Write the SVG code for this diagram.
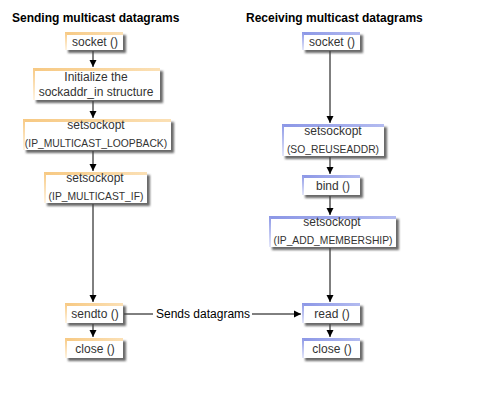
<svg xmlns="http://www.w3.org/2000/svg" width="487" height="406" viewBox="0 0 487 406">
<defs>
<filter id="sh" x="-20%" y="-20%" width="140%" height="160%"><feGaussianBlur stdDeviation="1"/></filter>
<linearGradient id="oL" x1="0" y1="0" x2="0" y2="1"><stop offset="0" stop-color="#f7c983"/><stop offset="1" stop-color="#fff4e2"/></linearGradient>
<linearGradient id="oT" x1="0" y1="0" x2="1" y2="0"><stop offset="0" stop-color="#f7c983"/><stop offset="1" stop-color="#fbe0b5"/></linearGradient>
<linearGradient id="bL" x1="0" y1="0" x2="0" y2="1"><stop offset="0" stop-color="#8c97e6"/><stop offset="1" stop-color="#e4e7fa"/></linearGradient>
<linearGradient id="bT" x1="0" y1="0" x2="1" y2="0"><stop offset="0" stop-color="#8c97e6"/><stop offset="1" stop-color="#b3bbf0"/></linearGradient>
<marker id="ah" markerWidth="8" markerHeight="8" refX="7" refY="4" orient="auto" markerUnits="userSpaceOnUse"><path d="M0,0.5 L7,4 L0,7.5 Z" fill="#000"/></marker>
</defs>
<style>
.t{font-family:"Liberation Sans",Arial,sans-serif;font-size:12px;fill:#333;text-anchor:middle}
.s{font-family:"Liberation Sans",Arial,sans-serif;font-size:10.3px;fill:#333;text-anchor:middle}
.h{font-family:"Liberation Sans",Arial,sans-serif;font-size:12px;font-weight:bold;fill:#000}
.l{font-family:"Liberation Sans",Arial,sans-serif;font-size:12px;fill:#000}
.shd{fill:#444;filter:url(#sh);opacity:0.8}
.bg{fill:#fff}
.c{stroke:#000;stroke-width:1;fill:none}
.ca{stroke:#000;stroke-width:1;fill:none;marker-end:url(#ah)}
</style>
<text class="h" x="12" y="22">Sending multicast datagrams</text>
<text class="h" x="246" y="22">Receiving multicast datagrams</text>

<g id="connectors">
<line class="ca" x1="93" y1="51" x2="93" y2="67"/>
<line class="ca" x1="93" y1="101" x2="93" y2="118"/>
<line class="ca" x1="93" y1="151" x2="93" y2="171"/>
<line class="ca" x1="93" y1="204" x2="93" y2="302"/>
<line class="ca" x1="93" y1="324" x2="93" y2="337"/>
<line class="ca" x1="330" y1="51" x2="330" y2="123"/>
<line class="ca" x1="330" y1="157" x2="330" y2="174"/>
<line class="ca" x1="330" y1="196" x2="330" y2="215"/>
<line class="ca" x1="330" y1="248" x2="330" y2="302"/>
<line class="ca" x1="330" y1="324" x2="330" y2="337"/>
<line class="c" x1="124" y1="314" x2="153" y2="314"/>
<line class="ca" x1="252" y1="314" x2="301" y2="314"/>
<text class="l" x="156" y="318">Sends datagrams</text>
</g>

<g id="s_socket">
<rect class="shd" x="68" y="35" width="58" height="18"/>
<rect class="bg" x="65" y="32" width="58" height="18"/>
<rect x="65" y="32" width="58" height="3" fill="url(#oT)"/>
<rect x="65" y="32" width="2" height="18" fill="url(#oL)"/>
<text class="t" x="95" y="46">socket ()</text>
</g>
<g id="s_init">
<rect class="shd" x="36" y="71" width="127" height="32"/>
<rect class="bg" x="33" y="68" width="127" height="32"/>
<rect x="33" y="68" width="127" height="3" fill="url(#oT)"/>
<rect x="33" y="68" width="2" height="32" fill="url(#oL)"/>
<text class="t" x="96" y="81">Initialize the</text>
<text class="t" x="96" y="96">sockaddr_in structure</text>
</g>
<g id="s_loopback">
<rect class="shd" x="26" y="122" width="148" height="31"/>
<rect class="bg" x="23" y="119" width="148" height="31"/>
<rect x="23" y="119" width="148" height="3" fill="url(#oT)"/>
<rect x="23" y="119" width="2" height="31" fill="url(#oL)"/>
<text class="t" x="96" y="129">setsockopt</text>
<text class="s" x="96" y="147">(IP_MULTICAST_LOOPBACK)</text>
</g>
<g id="s_if">
<rect class="shd" x="47" y="175" width="103" height="31"/>
<rect class="bg" x="44" y="172" width="103" height="31"/>
<rect x="44" y="172" width="103" height="3" fill="url(#oT)"/>
<rect x="44" y="172" width="2" height="31" fill="url(#oL)"/>
<text class="t" x="95" y="182">setsockopt</text>
<text class="s" x="96" y="200">(IP_MULTICAST_IF)</text>
</g>
<g id="s_sendto">
<rect class="shd" x="68" y="306" width="58" height="20"/>
<rect class="bg" x="65" y="303" width="58" height="20"/>
<rect x="65" y="303" width="58" height="3" fill="url(#oT)"/>
<rect x="65" y="303" width="2" height="20" fill="url(#oL)"/>
<text class="t" x="95" y="318">sendto ()</text>
</g>
<g id="s_close">
<rect class="shd" x="68" y="341" width="58" height="20"/>
<rect class="bg" x="65" y="338" width="58" height="20"/>
<rect x="65" y="338" width="58" height="3" fill="url(#oT)"/>
<rect x="65" y="338" width="2" height="20" fill="url(#oL)"/>
<text class="t" x="95" y="353">close ()</text>
</g>

<g id="r_socket">
<rect class="shd" x="305" y="35" width="58" height="18"/>
<rect class="bg" x="302" y="32" width="58" height="18"/>
<rect x="302" y="32" width="58" height="3" fill="url(#bT)"/>
<rect x="302" y="32" width="2" height="18" fill="url(#bL)"/>
<text class="t" x="332" y="46">socket ()</text>
</g>
<g id="r_reuse">
<rect class="shd" x="285" y="127" width="102" height="32"/>
<rect class="bg" x="282" y="124" width="102" height="32"/>
<rect x="282" y="124" width="102" height="3" fill="url(#bT)"/>
<rect x="282" y="124" width="2" height="32" fill="url(#bL)"/>
<text class="t" x="333" y="135">setsockopt</text>
<text class="s" x="333" y="153">(SO_REUSEADDR)</text>
</g>
<g id="r_bind">
<rect class="shd" x="305" y="178" width="58" height="20"/>
<rect class="bg" x="302" y="175" width="58" height="20"/>
<rect x="302" y="175" width="58" height="3" fill="url(#bT)"/>
<rect x="302" y="175" width="2" height="20" fill="url(#bL)"/>
<text class="t" x="333" y="190">bind ()</text>
</g>
<g id="r_member">
<rect class="shd" x="272" y="219" width="127" height="31"/>
<rect class="bg" x="269" y="216" width="127" height="31"/>
<rect x="269" y="216" width="127" height="3" fill="url(#bT)"/>
<rect x="269" y="216" width="2" height="31" fill="url(#bL)"/>
<text class="t" x="332" y="226">setsockopt</text>
<text class="s" x="333" y="244">(IP_ADD_MEMBERSHIP)</text>
</g>
<g id="r_read">
<rect class="shd" x="305" y="306" width="58" height="20"/>
<rect class="bg" x="302" y="303" width="58" height="20"/>
<rect x="302" y="303" width="58" height="3" fill="url(#bT)"/>
<rect x="302" y="303" width="2" height="20" fill="url(#bL)"/>
<text class="t" x="332" y="318">read ()</text>
</g>
<g id="r_close">
<rect class="shd" x="305" y="341" width="58" height="20"/>
<rect class="bg" x="302" y="338" width="58" height="20"/>
<rect x="302" y="338" width="58" height="3" fill="url(#bT)"/>
<rect x="302" y="338" width="2" height="20" fill="url(#bL)"/>
<text class="t" x="332" y="353">close ()</text>
</g>
</svg>
